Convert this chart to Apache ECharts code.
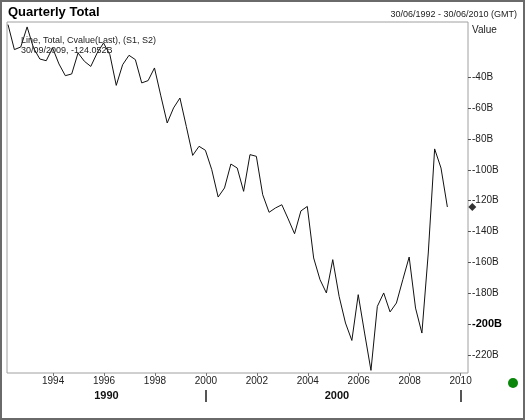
<!DOCTYPE html>
<html>
<head>
<meta charset="UTF-8">
<title>Quarterly Total</title>
<script src="https://cdn.jsdelivr.net/npm/echarts@6.0.0/dist/echarts.min.js"></script>
<style>
html, body { margin: 0; padding: 0; background: #fff; }
#wrap { position: relative; width: 525px; height: 420px; }
#main { width: 525px; height: 420px; }
#frame { position: absolute; left: 0; top: 0; width: 525px; height: 420px; box-sizing: border-box; border: 2px solid #6a6a6a; pointer-events: none; }
</style>
</head>
<body>
<div id="wrap">
	<div id="main"></div>
	<div id="frame"></div>
</div>
<script type="text/javascript">
// quarterly values, billions (30/06/1992 .. 30/09/2009)
var values = [
	-5.8, -22.0, -20.3, -7.3, -20.9, -28.1, -29.2, -20.9, -31.3, -38.9,
	-37.8, -24.2, -29.6, -32.9, -24.2, -17.7, -25.3, -45.2, -31.8, -25.7,
	-28.5, -43.6, -42.1, -33.9, -52.0, -69.6, -59.8, -53.4, -71.8, -90.6,
	-84.7, -87.3, -99.9, -117.6, -111.7, -96.2, -98.8, -113.9, -90.1, -91.2,
	-116.1, -127.5, -124.7, -122.6, -131.8, -141.4, -126.6, -123.7, -157.1, -171.2,
	-179.8, -158.2, -182.0, -199.3, -210.6, -180.9, -205.8, -230.0, -188.5, -179.8,
	-192.1, -186.3, -171.2, -156.5, -189.6, -205.8, -153.9, -86.4, -98.8, -124.052
];
var xStart = 1992.23;   // axis position of the first quarter
var xStep = 0.25;       // one quarter
var lastDate = '30/09/2009';
var rangeText = '30/06/1992 - 30/06/2010 (GMT)';
var yearTicks = [1994, 1996, 1998, 2000, 2002, 2004, 2006, 2008, 2010];
var decadeTicks = [2000, 2010];
var decadeNames = ['1990', '2000'];
var valueTicks = [-40, -60, -80, -100, -120, -140, -160, -180, -200, -220];
var boldTick = -200;

var xMin = 1992.19, xMax = 2010.29;
var yMin = -231.7, yMax = -4.1;

var FONT = '"Liberation Sans", Arial, sans-serif';

var lineData = values.map(function (v, i) { return [xStart + i * xStep, v]; });
var last = values[values.length - 1];

var myChart = echarts.init(document.getElementById('main'));
var option = {
	animation: false,
	backgroundColor: '#fff',
	textStyle: { fontFamily: FONT },
	title: [
		{ text: 'Quarterly Total', left: 8, top: 6, padding: 0,
		  textStyle: { fontSize: 13, fontWeight: 'bold', color: '#000', fontFamily: FONT } },
		{ text: rangeText, right: 8, top: 10, padding: 0,
		  textStyle: { fontSize: 9, fontWeight: 'normal', color: '#222', fontFamily: FONT } },
		{ text: 'Line, Total, Cvalue(Last), (S1, S2)\n' + lastDate + ', ' + last.toFixed(3) + 'B',
		  left: 21, top: 35, padding: 0,
		  textStyle: { fontSize: 9, fontWeight: 'normal', color: '#222', lineHeight: 10.5, fontFamily: FONT } }
	],
	grid: {
		left: 7, top: 22, right: 57, bottom: 47,
		show: true, borderColor: '#a0a0a0', borderWidth: 1, backgroundColor: '#fff'
	},
	xAxis: [
		{
			type: 'value', min: xMin, max: xMax, position: 'bottom',
			axisLine: { show: false },
			splitLine: { show: false },
			axisTick: { show: true, customValues: yearTicks, length: 3, lineStyle: { color: '#777' } },
			axisLabel: { customValues: yearTicks, margin: 3, fontSize: 10, color: '#222',
				formatter: function (v) { return String(Math.round(v)); } }
		},
		{
			type: 'value', min: xMin, max: xMax, position: 'bottom', offset: 17,
			axisLine: { show: false },
			splitLine: { show: false },
			axisTick: { show: true, customValues: decadeTicks, length: 12, lineStyle: { color: '#555', width: 2 } },
			axisLabel: { customValues: [(xMin + decadeTicks[0]) / 2, (decadeTicks[0] + xMax) / 2],
				margin: 0, fontSize: 11, fontWeight: 'bold', color: '#111',
				formatter: function (v) { return v < decadeTicks[0] ? decadeNames[0] : decadeNames[1]; } }
		}
	],
	yAxis: {
		type: 'value', position: 'right', min: yMin, max: yMax,
		name: 'Value', nameLocation: 'end', nameGap: -8,
		nameTextStyle: { align: 'left', verticalAlign: 'middle', fontSize: 10, color: '#222', padding: [0, 0, 0, 4] },
		axisLine: { show: false },
		splitLine: { show: false },
		axisTick: { show: true, customValues: valueTicks, length: 3, lineStyle: { color: '#555' } },
		axisLabel: {
			customValues: valueTicks, margin: 4, fontSize: 10, color: '#222',
			formatter: function (v) {
				var s = Math.round(v) + 'B';
				return Math.round(v) === boldTick ? '{b|' + s + '}' : s;
			},
			rich: { b: { fontWeight: 'bold', fontSize: 11, color: '#000' } }
		}
	},
	graphic: [
		{ type: 'circle', shape: { cx: 513, cy: 383, r: 5 }, style: { fill: '#0a860a' } }
	],
	series: [
		{
			name: 'Total', type: 'line', data: lineData, showSymbol: false,
			lineStyle: { color: '#111', width: 1 }, z: 2
		},
		{
			name: 'Last', type: 'scatter', clip: false,
			data: [[xMax + 0.17, last]],
			symbol: 'diamond', symbolSize: 8,
			itemStyle: { color: '#000' }, z: 5
		}
	]
};
myChart.setOption(option);
</script>
</body>
</html>
